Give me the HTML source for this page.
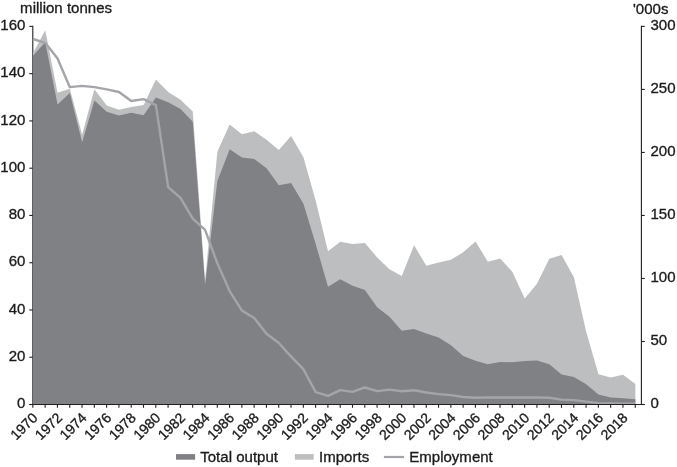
<!DOCTYPE html>
<html><head><meta charset="utf-8"><title>Chart</title>
<style>
html,body{margin:0;padding:0;background:#fff;}
body{width:677px;height:467px;overflow:hidden;}
svg{display:block;}
text{font-family:"Liberation Sans",Arial,Helvetica,sans-serif;font-size:15.05px;fill:#1c1a1b;stroke:#1c1a1b;stroke-width:0.32px;}
</style></head><body>
<svg width="677" height="467" viewBox="0 0 677 467">
<rect width="677" height="467" fill="#fff"/>
<g stroke="#231f20" stroke-width="1.1" fill="none">
<path d="M32.8,25.849999999999998 V404.5"/>
<path d="M641.4,25.849999999999998 V404.5"/>
<path d="M29.3,404.50 H32.8"/>
<path d="M29.3,357.24 H32.8"/>
<path d="M29.3,309.98 H32.8"/>
<path d="M29.3,262.71 H32.8"/>
<path d="M29.3,215.45 H32.8"/>
<path d="M29.3,168.19 H32.8"/>
<path d="M29.3,120.93 H32.8"/>
<path d="M29.3,73.67 H32.8"/>
<path d="M29.3,26.40 H32.8"/>
<path d="M641.4,404.50 H644.7"/>
<path d="M641.4,341.49 H644.7"/>
<path d="M641.4,278.47 H644.7"/>
<path d="M641.4,215.46 H644.7"/>
<path d="M641.4,152.44 H644.7"/>
<path d="M641.4,89.43 H644.7"/>
<path d="M641.4,26.41 H644.7"/>
</g>
<polygon points="32.95,404.5 32.95,53.34 45.24,30.18 57.54,92.81 69.83,88.79 82.13,134.63 94.42,89.26 106.71,105.57 119.01,109.82 131.30,106.99 143.60,105.10 155.89,79.57 168.18,92.10 180.48,99.66 192.77,111.48 205.07,280.44 217.36,151.65 229.65,124.47 241.95,134.16 254.24,131.33 266.54,139.83 278.83,149.99 291.12,136.05 303.42,157.32 315.71,200.80 328.01,251.37 340.30,241.68 352.59,244.05 364.89,243.10 377.18,257.52 389.48,269.33 401.77,275.95 414.06,245.23 426.36,265.79 438.65,262.48 450.95,259.64 463.24,252.32 475.53,241.45 487.83,261.77 500.12,258.46 512.42,271.93 524.71,298.40 537.00,283.75 549.30,258.70 561.59,254.92 573.89,277.37 586.18,331.72 598.47,374.25 610.77,377.56 623.06,374.72 635.36,383.94 635.36,404.5" fill="#bdbec0"/>
<polygon points="32.95,404.5 32.95,55.71 45.24,42.24 57.54,104.39 69.83,93.04 82.13,142.20 94.42,100.61 106.71,111.71 119.01,115.49 131.30,112.66 143.60,115.26 155.89,97.53 168.18,102.26 180.48,108.88 192.77,121.87 205.07,284.93 217.36,180.95 229.65,149.29 241.95,157.56 254.24,158.97 266.54,168.19 278.83,185.20 291.12,183.08 303.42,203.87 315.71,244.05 328.01,286.82 340.30,279.26 352.59,285.87 364.89,289.89 377.18,307.14 389.48,316.83 401.77,330.77 414.06,329.12 426.36,333.61 438.65,337.62 450.95,345.19 463.24,356.06 475.53,360.78 487.83,364.33 500.12,361.96 512.42,362.20 524.71,361.02 537.00,360.55 549.30,364.33 561.59,374.49 573.89,377.09 586.18,384.18 598.47,394.57 610.77,397.41 623.06,398.36 635.36,399.30 635.36,404.5" fill="#808184"/>
<polyline points="32.95,39.01 45.24,42.79 57.54,58.55 69.83,87.16 82.13,85.90 94.42,87.16 106.71,89.43 119.01,91.95 131.30,101.02 143.60,99.13 155.89,105.18 168.18,187.10 180.48,197.81 192.77,218.61 205.07,229.95 217.36,263.35 229.65,291.07 241.95,310.61 254.24,318.04 266.54,333.67 278.83,343.00 291.12,356.61 303.42,369.21 315.71,392.15 328.01,395.93 340.30,390.13 352.59,391.90 364.89,387.49 377.18,391.14 389.48,389.63 401.77,391.27 414.06,390.26 426.36,392.53 438.65,394.17 450.95,395.17 463.24,396.94 475.53,397.69 487.83,397.57 500.12,397.44 512.42,397.44 524.71,397.44 537.00,397.57 549.30,397.69 561.59,399.58 573.89,400.09 586.18,401.60 598.47,403.11 610.77,403.49 623.06,403.62 635.36,403.74" fill="none" stroke="#a3a5a8" stroke-width="2.4" stroke-linejoin="round"/>
<g stroke="#231f20" stroke-width="1.1" fill="none">
<path d="M29.3,404.5 H644.8"/>
<path d="M32.85,404.5 V407.8"/>
<path d="M45.14,404.5 V407.8"/>
<path d="M57.44,404.5 V407.8"/>
<path d="M69.73,404.5 V407.8"/>
<path d="M82.03,404.5 V407.8"/>
<path d="M94.32,404.5 V407.8"/>
<path d="M106.61,404.5 V407.8"/>
<path d="M118.91,404.5 V407.8"/>
<path d="M131.20,404.5 V407.8"/>
<path d="M143.50,404.5 V407.8"/>
<path d="M155.79,404.5 V407.8"/>
<path d="M168.08,404.5 V407.8"/>
<path d="M180.38,404.5 V407.8"/>
<path d="M192.67,404.5 V407.8"/>
<path d="M204.97,404.5 V407.8"/>
<path d="M217.26,404.5 V407.8"/>
<path d="M229.55,404.5 V407.8"/>
<path d="M241.85,404.5 V407.8"/>
<path d="M254.14,404.5 V407.8"/>
<path d="M266.44,404.5 V407.8"/>
<path d="M278.73,404.5 V407.8"/>
<path d="M291.02,404.5 V407.8"/>
<path d="M303.32,404.5 V407.8"/>
<path d="M315.61,404.5 V407.8"/>
<path d="M327.91,404.5 V407.8"/>
<path d="M340.20,404.5 V407.8"/>
<path d="M352.49,404.5 V407.8"/>
<path d="M364.79,404.5 V407.8"/>
<path d="M377.08,404.5 V407.8"/>
<path d="M389.38,404.5 V407.8"/>
<path d="M401.67,404.5 V407.8"/>
<path d="M413.96,404.5 V407.8"/>
<path d="M426.26,404.5 V407.8"/>
<path d="M438.55,404.5 V407.8"/>
<path d="M450.85,404.5 V407.8"/>
<path d="M463.14,404.5 V407.8"/>
<path d="M475.43,404.5 V407.8"/>
<path d="M487.73,404.5 V407.8"/>
<path d="M500.02,404.5 V407.8"/>
<path d="M512.32,404.5 V407.8"/>
<path d="M524.61,404.5 V407.8"/>
<path d="M536.90,404.5 V407.8"/>
<path d="M549.20,404.5 V407.8"/>
<path d="M561.49,404.5 V407.8"/>
<path d="M573.79,404.5 V407.8"/>
<path d="M586.08,404.5 V407.8"/>
<path d="M598.37,404.5 V407.8"/>
<path d="M610.67,404.5 V407.8"/>
<path d="M622.96,404.5 V407.8"/>
<path d="M635.26,404.5 V407.8"/>
</g>
<text transform="translate(25.4,408.10) scale(1,1.015)" text-anchor="end">0</text>
<text transform="translate(25.4,360.84) scale(1,1.015)" text-anchor="end">20</text>
<text transform="translate(25.4,313.58) scale(1,1.015)" text-anchor="end">40</text>
<text transform="translate(25.4,266.31) scale(1,1.015)" text-anchor="end">60</text>
<text transform="translate(25.4,219.05) scale(1,1.015)" text-anchor="end">80</text>
<text transform="translate(25.4,171.79) scale(1,1.015)" text-anchor="end">100</text>
<text transform="translate(25.4,124.53) scale(1,1.015)" text-anchor="end">120</text>
<text transform="translate(25.4,77.27) scale(1,1.015)" text-anchor="end">140</text>
<text transform="translate(25.4,30.00) scale(1,1.015)" text-anchor="end">160</text>
<text transform="translate(650.4,407.80) scale(1,1.015)">0</text>
<text transform="translate(650.4,344.79) scale(1,1.015)">50</text>
<text transform="translate(650.4,281.77) scale(1,1.015)">100</text>
<text transform="translate(650.4,218.76) scale(1,1.015)">150</text>
<text transform="translate(650.4,155.74) scale(1,1.015)">200</text>
<text transform="translate(650.4,92.73) scale(1,1.015)">250</text>
<text transform="translate(650.4,29.71) scale(1,1.015)">300</text>
<text transform="translate(20.1,12.8) scale(1,1.015)">million tonnes</text>
<text transform="translate(633.0,13.7) scale(1,1.015)">'000s</text>
<text transform="translate(38.45,418.6) rotate(-45)" text-anchor="end" style="font-size:14.1px">1970</text>
<text transform="translate(63.04,418.6) rotate(-45)" text-anchor="end" style="font-size:14.1px">1972</text>
<text transform="translate(87.63,418.6) rotate(-45)" text-anchor="end" style="font-size:14.1px">1974</text>
<text transform="translate(112.21,418.6) rotate(-45)" text-anchor="end" style="font-size:14.1px">1976</text>
<text transform="translate(136.80,418.6) rotate(-45)" text-anchor="end" style="font-size:14.1px">1978</text>
<text transform="translate(161.39,418.6) rotate(-45)" text-anchor="end" style="font-size:14.1px">1980</text>
<text transform="translate(185.98,418.6) rotate(-45)" text-anchor="end" style="font-size:14.1px">1982</text>
<text transform="translate(210.57,418.6) rotate(-45)" text-anchor="end" style="font-size:14.1px">1984</text>
<text transform="translate(235.15,418.6) rotate(-45)" text-anchor="end" style="font-size:14.1px">1986</text>
<text transform="translate(259.74,418.6) rotate(-45)" text-anchor="end" style="font-size:14.1px">1988</text>
<text transform="translate(284.33,418.6) rotate(-45)" text-anchor="end" style="font-size:14.1px">1990</text>
<text transform="translate(308.92,418.6) rotate(-45)" text-anchor="end" style="font-size:14.1px">1992</text>
<text transform="translate(333.51,418.6) rotate(-45)" text-anchor="end" style="font-size:14.1px">1994</text>
<text transform="translate(358.09,418.6) rotate(-45)" text-anchor="end" style="font-size:14.1px">1996</text>
<text transform="translate(382.68,418.6) rotate(-45)" text-anchor="end" style="font-size:14.1px">1998</text>
<text transform="translate(407.27,418.6) rotate(-45)" text-anchor="end" style="font-size:14.1px">2000</text>
<text transform="translate(431.86,418.6) rotate(-45)" text-anchor="end" style="font-size:14.1px">2002</text>
<text transform="translate(456.45,418.6) rotate(-45)" text-anchor="end" style="font-size:14.1px">2004</text>
<text transform="translate(481.03,418.6) rotate(-45)" text-anchor="end" style="font-size:14.1px">2006</text>
<text transform="translate(505.62,418.6) rotate(-45)" text-anchor="end" style="font-size:14.1px">2008</text>
<text transform="translate(530.21,418.6) rotate(-45)" text-anchor="end" style="font-size:14.1px">2010</text>
<text transform="translate(554.80,418.6) rotate(-45)" text-anchor="end" style="font-size:14.1px">2012</text>
<text transform="translate(579.39,418.6) rotate(-45)" text-anchor="end" style="font-size:14.1px">2014</text>
<text transform="translate(603.97,418.6) rotate(-45)" text-anchor="end" style="font-size:14.1px">2016</text>
<text transform="translate(628.56,418.6) rotate(-45)" text-anchor="end" style="font-size:14.1px">2018</text>
<rect x="176" y="454.1" width="19.1" height="5.6" fill="#808184"/>
<text transform="translate(200.2,461.6) scale(1,1.015)">Total output</text>
<rect x="294.9" y="454.1" width="18.8" height="5.6" fill="#bdbec0"/>
<text transform="translate(319.0,461.6) scale(1,1.015)">Imports</text>
<path d="M383.9,457 H404.1" stroke="#a3a5a8" stroke-width="2.2" fill="none"/>
<text transform="translate(409.2,461.6) scale(1,1.015)">Employment</text>
</svg></body></html>
